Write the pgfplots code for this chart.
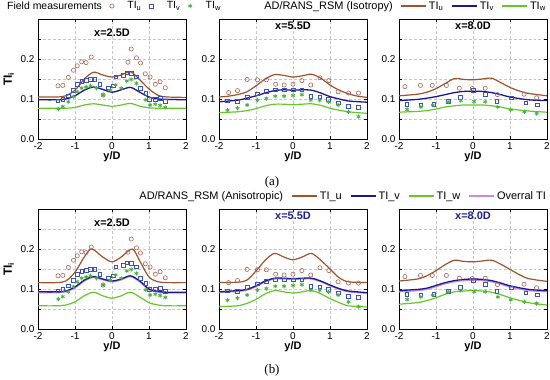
\documentclass[border=0pt]{standalone}
\usepackage{fontspec}
\setmainfont{Liberation Sans}
\newfontfamily\seriffont{Liberation Serif}
\usepackage{pgfplots}
\pgfplotsset{compat=1.18}
\definecolor{cu}{RGB}{160,82,45}
\definecolor{cuM}{RGB}{170,100,85}
\definecolor{cv}{RGB}{25,25,140}
\definecolor{cvM}{RGB}{60,80,200}
\definecolor{cw}{RGB}{100,200,40}
\definecolor{cwM}{RGB}{70,180,60}
\definecolor{ct}{RGB}{200,140,230}
\definecolor{tblue}{RGB}{30,30,150}
\tikzset{ttl/.style={font=\bfseries\fontsize{11}{13}\selectfont}}
\pgfplotsset{
 panel/.style={scale only axis, width=148bp, height=120bp,
  xmin=-2, xmax=2, ymin=0, ymax=0.3,
  xtick={-2,-1,0,1,2}, ytick={0,0.1,0.2}, minor ytick={0.05,0.15,0.25},
  grid=both, grid style={densely dashed, gray!45, line width=0.4bp},
  axis line style={line width=0.8bp}, tick style={black, line width=0.6bp},
  major tick length=3bp, minor tick length=3bp,
  tick label style={font=\fontsize{10}{12}\selectfont},
  /pgf/number format/assume math mode=true,
  yticklabel style={/pgf/number format/fixed, /pgf/number format/fixed zerofill, /pgf/number format/precision=1},
  xlabel={\textbf{y/D}}, xlabel style={font=\fontsize{11}{13}\selectfont, yshift=5bp}},
 mu/.style={only marks, mark=o, mark size=2.1bp, color=cuM, mark options={line width=0.6bp}},
 mv/.style={only marks, mark=square, mark size=1.8bp, color=cvM, mark options={line width=0.6bp}},
 mw/.style={only marks, mark=asterisk, mark size=2.1bp, color=cwM, mark options={line width=0.8bp}},
 lu/.style={color=cu, line width=1.2bp},
 lv/.style={color=cv, line width=1.3bp},
 lw/.style={color=cw, line width=1.2bp},
 lt/.style={color=ct, line width=1.3bp},
 longline/.style={legend image code/.code={\draw[##1] (0bp,0bp) -- (25bp,0bp);}},
 markleg/.style={legend image code/.code={\path[draw=none] (-5bp,0bp) -- (13.5bp,0bp); \draw[##1] plot coordinates {(0bp,0bp)};}},
 legbase/.style={legend columns=-1, legend cell align=left,
   legend style={draw=none, fill=none, inner sep=0pt, font=\fontsize{11}{13}\selectfont,
   /tikz/every even column/.append style={column sep=#1}}},
}
\begin{document}
\begin{tikzpicture}
\path[use as bounding box] (0,0) rectangle (550bp,-380bp);
% ---------------- (a) x=2.5D
\begin{axis}[panel, at={(38bp,-139bp)}, anchor=south west,
  ylabel={\textbf{TI}\textsubscript{\textbf{i}}}, ylabel style={font=\fontsize{12}{14}\selectfont},
  legbase=3bp, legend style={at={(-0.223,1.108)}, anchor=west, font=\fontsize{10.5}{12}\selectfont}]
\addlegendimage{empty legend}\addlegendentry{Field measurements\hspace{5bp}}
\addlegendimage{mu, markleg}\addlegendentry{TI\textsubscript{u}}
\addlegendimage{mv, markleg}\addlegendentry{TI\textsubscript{v}}
\addlegendimage{mw, markleg}\addlegendentry{TI\textsubscript{w}}
\addplot[lu, smooth, forget plot] coordinates {(-2,0.105)(-1.5,0.105)(-1.25,0.108)(-1,0.122)(-0.75,0.150)(-0.5,0.167)(-0.25,0.160)(0,0.155)(0.25,0.160)(0.5,0.168)(0.75,0.148)(1,0.125)(1.25,0.109)(1.5,0.105)(2,0.104)};
\addplot[lv, smooth, forget plot] coordinates {(-2,0.098)(-1.5,0.098)(-1.25,0.100)(-1,0.108)(-0.75,0.122)(-0.5,0.130)(-0.25,0.124)(0,0.117)(0.25,0.123)(0.5,0.129)(0.75,0.117)(1,0.105)(1.25,0.100)(1.5,0.099)(2,0.098)};
\addplot[lw, smooth, forget plot] coordinates {(-2,0.077)(-1.25,0.077)(-1,0.079)(-0.75,0.085)(-0.5,0.088)(-0.25,0.085)(0,0.082)(0.25,0.085)(0.5,0.089)(0.75,0.082)(1,0.078)(1.25,0.077)(2,0.077)};
\addplot[mu, forget plot] coordinates {(-1.46,0.133)(-1.33,0.134)(-1.18,0.154)(-1.04,0.172)(-0.94,0.183)(-0.82,0.193)(-0.70,0.191)(-0.56,0.205)(-0.24,0.110)(0.43,0.192)(0.52,0.225)(0.66,0.203)(0.77,0.190)(0.90,0.163)(1.03,0.155)(1.17,0.137)(1.30,0.143)(1.44,0.128)};
\addplot[mv, forget plot] coordinates {(-1.46,0.096)(-1.33,0.099)(-1.18,0.108)(-1.04,0.122)(-0.94,0.137)(-0.82,0.145)(-0.70,0.147)(-0.58,0.149)(-0.46,0.150)(-0.33,0.137)(-0.10,0.128)(0.03,0.133)(0.10,0.156)(0.30,0.160)(0.40,0.166)(0.52,0.164)(0.66,0.156)(0.77,0.127)(0.91,0.114)(1.01,0.100)(1.17,0.099)(1.30,0.102)(1.44,0.095)};
\addplot[mw, forget plot] coordinates {(-1.45,0.075)(-1.33,0.081)(-1.18,0.093)(-1.04,0.106)(-0.94,0.118)(-0.82,0.127)(-0.70,0.130)(-0.58,0.133)(-0.42,0.127)(-0.24,0.110)(-0.05,0.122)(0.10,0.135)(0.25,0.127)(0.40,0.145)(0.52,0.149)(0.66,0.139)(0.91,0.098)(1.03,0.085)(1.17,0.087)(1.30,0.084)(1.44,0.079)};
\node[ttl] at (rel axis cs:0.5,0.883) {x=2.5D};
\end{axis}
% ---------------- (a) x=5.5D
\begin{axis}[panel, at={(219bp,-139bp)}, anchor=south west,
  legbase=6bp, legend style={at={(2.223,1.108)}, anchor=east}]
\addlegendimage{empty legend}\addlegendentry{AD/RANS\_RSM (Isotropy)}
\addlegendimage{lu, longline}\addlegendentry{TI\textsubscript{u}}
\addlegendimage{lv, longline}\addlegendentry{TI\textsubscript{v}}
\addlegendimage{lw, longline}\addlegendentry{TI\textsubscript{w}}
\addplot[lu, smooth, forget plot] coordinates {(-2,0.105)(-1.75,0.107)(-1.5,0.111)(-1.25,0.118)(-1,0.133)(-0.75,0.150)(-0.5,0.161)(-0.25,0.159)(0,0.155)(0.25,0.158)(0.5,0.162)(0.75,0.152)(1,0.135)(1.25,0.122)(1.5,0.113)(1.75,0.107)(2,0.104)};
\addplot[lv, smooth, forget plot] coordinates {(-2,0.093)(-1.5,0.097)(-1.25,0.102)(-1,0.108)(-0.75,0.115)(-0.5,0.121)(-0.25,0.123)(0,0.122)(0.25,0.123)(0.5,0.122)(0.75,0.115)(1,0.106)(1.25,0.100)(1.5,0.095)(2,0.092)};
\addplot[lw, smooth, forget plot] coordinates {(-2,0.066)(-1.5,0.068)(-1.25,0.071)(-1,0.076)(-0.75,0.083)(-0.5,0.087)(-0.25,0.087)(0,0.086)(0.25,0.087)(0.5,0.088)(0.75,0.084)(1,0.077)(1.25,0.072)(1.5,0.068)(2,0.064)};
\addplot[mu, forget plot] coordinates {(-1.74,0.116)(-1.50,0.121)(-1.24,0.149)(-0.96,0.148)(-0.72,0.148)(-0.47,0.137)(-0.24,0.135)(0.0,0.137)(0.24,0.146)(0.48,0.135)(0.73,0.153)(0.97,0.146)(1.22,0.118)(1.50,0.115)(1.77,0.115)};
\addplot[mv, forget plot] coordinates {(-1.77,0.096)(-1.50,0.095)(-1.24,0.105)(-0.96,0.113)(-0.72,0.120)(-0.48,0.123)(-0.24,0.123)(0.0,0.123)(0.24,0.123)(0.48,0.107)(0.72,0.106)(0.96,0.100)(1.22,0.091)(1.50,0.082)(1.77,0.080)};
\addplot[mw, forget plot] coordinates {(-1.77,0.072)(-1.50,0.077)(-1.24,0.085)(-0.96,0.097)(-0.72,0.101)(-0.48,0.107)(-0.24,0.107)(0.0,0.109)(0.24,0.111)(0.48,0.097)(0.72,0.097)(0.96,0.093)(1.22,0.085)(1.50,0.068)(1.77,0.056)};
\node[ttl] at (rel axis cs:0.5,0.945) {x=5.5D};
\end{axis}
% ---------------- (a) x=8.0D
\begin{axis}[panel, at={(399bp,-139bp)}, anchor=south west]
\addplot[lu, smooth] coordinates {(-2,0.108)(-1.5,0.112)(-1.25,0.117)(-1,0.126)(-0.75,0.139)(-0.5,0.151)(-0.25,0.149)(0,0.148)(0.25,0.150)(0.5,0.152)(0.75,0.141)(1,0.129)(1.25,0.120)(1.5,0.114)(2,0.108)};
\addplot[lv, smooth] coordinates {(-2,0.096)(-1.5,0.099)(-1.25,0.102)(-1,0.106)(-0.75,0.111)(-0.5,0.116)(-0.25,0.119)(0,0.119)(0.25,0.119)(0.5,0.116)(0.75,0.111)(1,0.105)(1.5,0.098)(2,0.096)};
\addplot[lw, smooth] coordinates {(-2,0.067)(-1.5,0.069)(-1.25,0.071)(-1,0.075)(-0.75,0.080)(-0.5,0.083)(-0.25,0.085)(0,0.085)(0.25,0.085)(0.5,0.083)(0.75,0.080)(1,0.075)(1.5,0.070)(2,0.067)};
\addplot[mu] coordinates {(-1.84,0.131)(-1.42,0.134)(-1.10,0.134)(-0.72,0.134)(-0.37,0.127)(-0.02,0.126)(0.33,0.127)(0.66,0.111)(1.38,0.112)(1.72,0.103)};
\addplot[mv] coordinates {(-1.79,0.087)(-1.41,0.086)(-1.06,0.087)(-0.67,0.094)(-0.34,0.105)(0.0,0.122)(0.34,0.112)(0.64,0.094)(1.04,0.103)(1.43,0.091)(1.73,0.086)};
\addplot[mw] coordinates {(-1.78,0.074)(-1.41,0.080)(-1.09,0.085)(-0.67,0.093)(-0.33,0.096)(0.03,0.094)(0.33,0.093)(0.67,0.080)(1.02,0.073)(1.39,0.068)(1.72,0.064)};
\node[ttl] at (rel axis cs:0.5,0.945) {x=8.0D};
\end{axis}
% ---------------- (b) x=2.5D
\begin{axis}[panel, at={(38bp,-329bp)}, anchor=south west,
  ylabel={\textbf{TI}\textsubscript{\textbf{i}}}, ylabel style={font=\fontsize{12}{14}\selectfont},
  legbase=6.5bp, legend style={at={(3.446,1.108)}, anchor=east}]
\addlegendimage{empty legend}\addlegendentry{AD/RANS\_RSM (Anisotropic)}
\addlegendimage{lu, longline}\addlegendentry{TI\_u}
\addlegendimage{lv, longline}\addlegendentry{TI\_v}
\addlegendimage{lw, longline}\addlegendentry{TI\_w}
\addlegendimage{lt, longline}\addlegendentry{Overral TI}
\addplot[lu, smooth, forget plot] coordinates {(-2,0.116)(-1.5,0.116)(-1.25,0.120)(-1,0.142)(-0.75,0.180)(-0.55,0.200)(-0.25,0.180)(0,0.168)(0.25,0.180)(0.55,0.200)(0.75,0.170)(1,0.130)(1.25,0.118)(1.5,0.116)(2,0.116)};
\addplot[lt, smooth, forget plot] coordinates {(-2,0.091)(-1.5,0.091)(-1.25,0.093)(-1,0.103)(-0.75,0.120)(-0.5,0.129)(-0.25,0.123)(0,0.118)(0.25,0.123)(0.5,0.131)(0.75,0.118)(1,0.098)(1.25,0.092)(1.5,0.090)(2,0.090)};
\addplot[lv, smooth, forget plot] coordinates {(-2,0.093)(-1.5,0.093)(-1.25,0.095)(-1,0.105)(-0.75,0.122)(-0.5,0.131)(-0.25,0.125)(0,0.120)(0.25,0.125)(0.5,0.133)(0.75,0.120)(1,0.100)(1.25,0.094)(1.5,0.092)(2,0.092)};
\addplot[lw, smooth, forget plot] coordinates {(-2,0.058)(-1.5,0.058)(-1.25,0.060)(-1,0.068)(-0.75,0.083)(-0.5,0.092)(-0.25,0.083)(0,0.077)(0.25,0.083)(0.5,0.092)(0.75,0.080)(1,0.066)(1.25,0.060)(1.5,0.058)(2,0.058)};
\addplot[mu, forget plot] coordinates {(-1.46,0.133)(-1.33,0.134)(-1.18,0.154)(-1.04,0.172)(-0.94,0.183)(-0.82,0.193)(-0.70,0.191)(-0.56,0.205)(-0.24,0.110)(0.43,0.192)(0.52,0.225)(0.66,0.203)(0.77,0.190)(0.90,0.163)(1.03,0.155)(1.17,0.137)(1.30,0.143)(1.44,0.128)};
\addplot[mv, forget plot] coordinates {(-1.46,0.096)(-1.33,0.099)(-1.18,0.108)(-1.04,0.122)(-0.94,0.137)(-0.82,0.145)(-0.70,0.147)(-0.58,0.149)(-0.46,0.150)(-0.33,0.137)(-0.10,0.128)(0.03,0.133)(0.10,0.156)(0.30,0.160)(0.40,0.166)(0.52,0.164)(0.66,0.156)(0.77,0.127)(0.91,0.114)(1.01,0.100)(1.17,0.099)(1.30,0.102)(1.44,0.095)};
\addplot[mw, forget plot] coordinates {(-1.45,0.075)(-1.33,0.081)(-1.18,0.093)(-1.04,0.106)(-0.94,0.118)(-0.82,0.127)(-0.70,0.130)(-0.58,0.133)(-0.42,0.127)(-0.24,0.110)(-0.05,0.122)(0.10,0.135)(0.25,0.127)(0.40,0.145)(0.52,0.149)(0.66,0.139)(0.91,0.098)(1.03,0.085)(1.17,0.087)(1.30,0.084)(1.44,0.079)};
\node[ttl] at (rel axis cs:0.5,0.883) {x=2.5D};
\end{axis}
% ---------------- (b) x=5.5D
\begin{axis}[panel, at={(219bp,-329bp)}, anchor=south west]
\addplot[lu, smooth] coordinates {(-2,0.116)(-1.5,0.117)(-1.25,0.122)(-1,0.145)(-0.75,0.172)(-0.5,0.189)(-0.25,0.180)(0,0.173)(0.25,0.180)(0.5,0.189)(0.75,0.172)(1,0.150)(1.25,0.128)(1.5,0.118)(2,0.116)};
\addplot[lt, smooth] coordinates {(-2,0.091)(-1.5,0.094)(-1.25,0.097)(-1,0.106)(-0.75,0.118)(-0.5,0.125)(-0.25,0.125)(0,0.124)(0.25,0.125)(0.5,0.125)(0.75,0.118)(1,0.108)(1.25,0.099)(1.5,0.093)(2,0.089)};
\addplot[lv, smooth] coordinates {(-2,0.093)(-1.5,0.096)(-1.25,0.099)(-1,0.108)(-0.75,0.120)(-0.5,0.127)(-0.25,0.127)(0,0.126)(0.25,0.127)(0.5,0.127)(0.75,0.120)(1,0.110)(1.25,0.101)(1.5,0.095)(2,0.091)};
\addplot[lw, smooth] coordinates {(-2,0.056)(-1.5,0.058)(-1.25,0.064)(-1,0.074)(-0.75,0.088)(-0.5,0.096)(-0.25,0.093)(0,0.090)(0.25,0.093)(0.5,0.096)(0.75,0.088)(1,0.076)(1.25,0.066)(1.5,0.058)(2,0.055)};
\addplot[mu] coordinates {(-1.74,0.116)(-1.50,0.121)(-1.24,0.149)(-0.96,0.148)(-0.72,0.148)(-0.47,0.137)(-0.24,0.135)(0.0,0.137)(0.24,0.146)(0.48,0.135)(0.73,0.153)(0.97,0.146)(1.22,0.118)(1.50,0.115)(1.77,0.115)};
\addplot[mv] coordinates {(-1.77,0.096)(-1.50,0.095)(-1.24,0.105)(-0.96,0.113)(-0.72,0.120)(-0.48,0.123)(-0.24,0.123)(0.0,0.123)(0.24,0.123)(0.48,0.107)(0.72,0.106)(0.96,0.100)(1.22,0.091)(1.50,0.082)(1.77,0.080)};
\addplot[mw] coordinates {(-1.77,0.072)(-1.50,0.077)(-1.24,0.085)(-0.96,0.097)(-0.72,0.101)(-0.48,0.107)(-0.24,0.107)(0.0,0.109)(0.24,0.111)(0.48,0.097)(0.72,0.097)(0.96,0.093)(1.22,0.085)(1.50,0.068)(1.77,0.056)};
\node[ttl, text=tblue] at (rel axis cs:0.5,0.945) {x=5.5D};
\end{axis}
% ---------------- (b) x=8.0D
\begin{axis}[panel, at={(399bp,-329bp)}, anchor=south west]
\addplot[lu, smooth] coordinates {(-2,0.120)(-1.5,0.125)(-1.25,0.133)(-1,0.146)(-0.75,0.161)(-0.5,0.172)(-0.25,0.169)(0,0.168)(0.25,0.170)(0.5,0.172)(0.75,0.162)(1,0.149)(1.25,0.136)(1.5,0.126)(2,0.119)};
\addplot[lt, smooth] coordinates {(-2,0.093)(-1.5,0.096)(-1.25,0.099)(-1,0.106)(-0.75,0.113)(-0.5,0.118)(-0.25,0.121)(0,0.122)(0.25,0.121)(0.5,0.118)(0.75,0.112)(1,0.105)(1.5,0.096)(2,0.093)};
\addplot[lv, smooth] coordinates {(-2,0.096)(-1.5,0.099)(-1.25,0.102)(-1,0.109)(-0.75,0.116)(-0.5,0.121)(-0.25,0.124)(0,0.125)(0.25,0.124)(0.5,0.121)(0.75,0.115)(1,0.108)(1.5,0.099)(2,0.096)};
\addplot[lw, smooth] coordinates {(-2,0.062)(-1.5,0.066)(-1.25,0.071)(-1,0.078)(-0.75,0.087)(-0.5,0.093)(-0.25,0.095)(0,0.096)(0.25,0.095)(0.5,0.092)(0.75,0.086)(1,0.078)(1.5,0.066)(2,0.060)};
\addplot[mu] coordinates {(-1.84,0.131)(-1.42,0.134)(-1.10,0.134)(-0.72,0.134)(-0.37,0.127)(-0.02,0.126)(0.33,0.127)(0.66,0.111)(1.38,0.112)(1.72,0.103)};
\addplot[mv] coordinates {(-1.79,0.087)(-1.41,0.086)(-1.06,0.087)(-0.67,0.094)(-0.34,0.105)(0.0,0.122)(0.34,0.112)(0.64,0.094)(1.04,0.103)(1.43,0.091)(1.73,0.086)};
\addplot[mw] coordinates {(-1.78,0.074)(-1.41,0.080)(-1.09,0.085)(-0.67,0.093)(-0.33,0.096)(0.03,0.094)(0.33,0.093)(0.67,0.080)(1.02,0.073)(1.39,0.068)(1.72,0.064)};
\node[ttl, text=tblue] at (rel axis cs:0.5,0.945) {x=8.0D};
\end{axis}
\node[font=\seriffont\fontsize{13}{15}\selectfont] at (272bp,-182bp) {(a)};
\node[font=\seriffont\fontsize{13}{15}\selectfont] at (272bp,-370bp) {(b)};
\end{tikzpicture}
\end{document}
